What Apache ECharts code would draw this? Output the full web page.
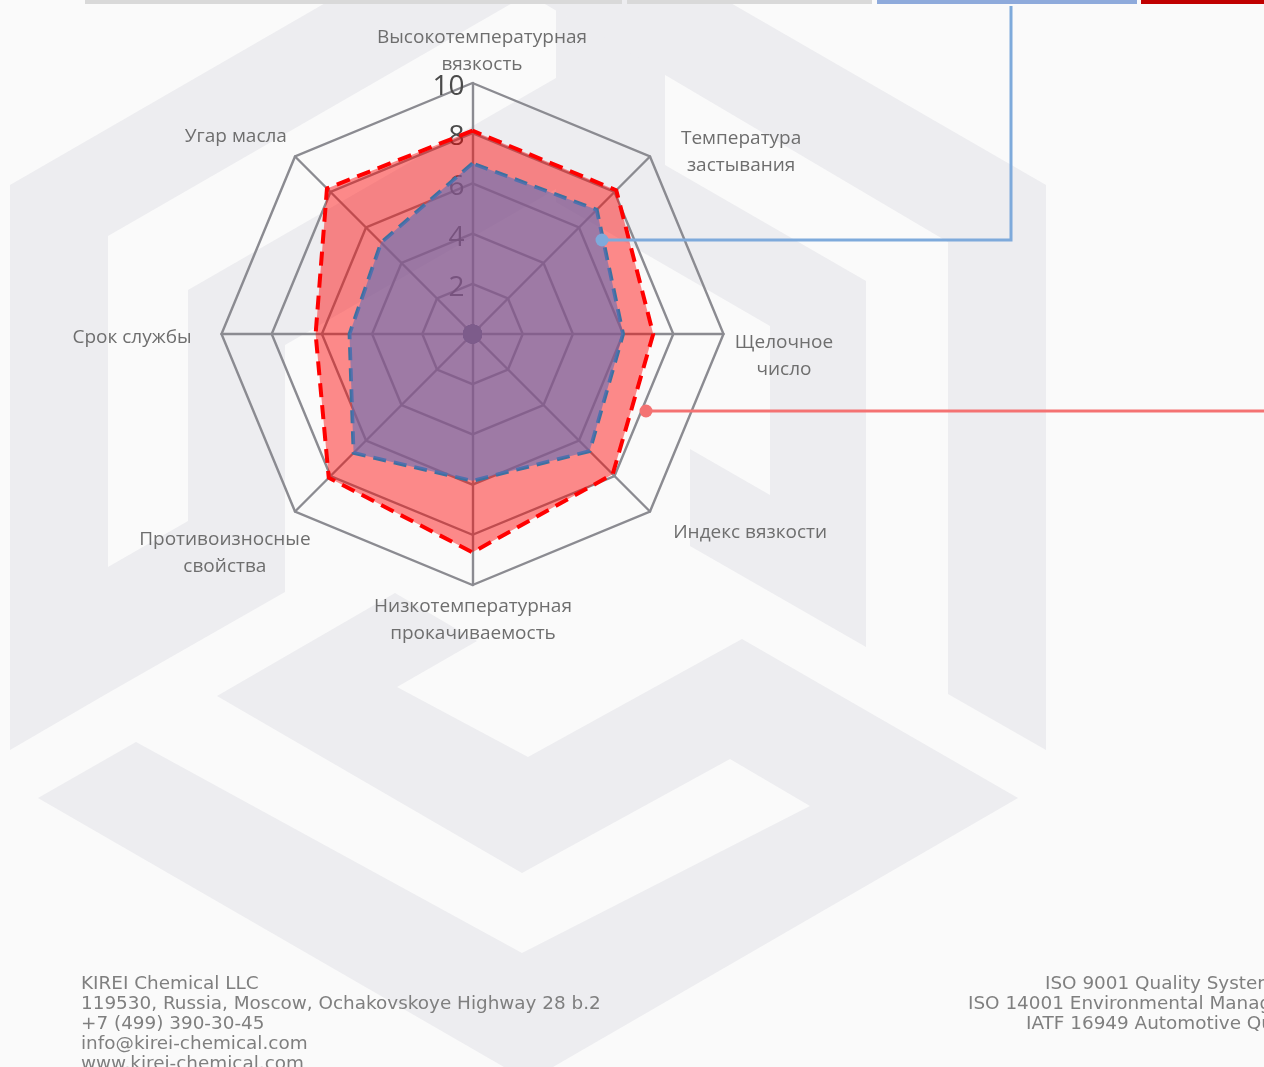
<!DOCTYPE html>
<html>
<head>
<meta charset="utf-8">
<script src="https://cdn.jsdelivr.net/npm/echarts@6/dist/echarts.min.js"></script>
<style>
html,body{margin:0;padding:0;background:#fafafa;}
#chart{width:1264px;height:1067px;}
</style>
</head>
<body>
<div id="chart"></div>
<script>
// ---------- DATA (clockwise from the top axis) ----------
const categories = [
  'Высокотемпературная\nвязкость',
  'Температура\nзастывания',
  'Щелочное\nчисло',
  'Индекс вязкости',
  'Низкотемпературная\nпрокачиваемость',
  'Противоизносные\nсвойства',
  'Срок службы',
  'Угар масла'
];
const redSeriesValues  = [8.1, 8.1, 7.2, 7.9, 8.7, 8.1, 6.25, 8.2];
const blueSeriesValues = [6.8, 7.0, 6.0, 6.6, 5.85, 6.7, 4.9, 5.15];
const centerValues     = [0, 0, 0, 0, 0, 0, 0, 0];
const scaleMax = 10;
const scaleStep = 2;

const footerLeft = [
  'KIREI Chemical LLC',
  '119530, Russia, Moscow, Ochakovskoye Highway 28 b.2',
  '+7 (499) 390-30-45',
  'info@kirei-chemical.com',
  'www.kirei-chemical.com'
];
const footerRight = [
  'ISO 9001 Quality System',
  'ISO 14001 Environmental Management',
  'IATF 16949 Automotive Quality'
];

// ---------- LAYOUT ----------
const CX = 472.5, CY = 334, R = 251;
const labelDrop = 4; // tick labels sit a little below their rings
// label shift (dx, dy) from the default name anchor, clockwise order
const nameShift = [[9.5,-12],[77,9.6],[40.5,22],[86,7.4],[0.5,15.5],[-56,27.4],[-69.5,4],[-45,-5.4]];
const n = categories.length;
// ECharts radar runs counter-clockwise: map ECharts slot -> clockwise index
const ecOrder = categories.map((_, j) => (n - j) % n);

const rich = {};
nameShift.forEach((s, k) => {
  const dx = s[0], dy = s[1];
  rich['n' + k] = {
    align: 'center',
    lineHeight: 27,
    fontSize: 19,
    fontFamily: 'Open Sans',
    color: '#6e6e6e',
    padding: [Math.max(0, 2*dy), Math.max(0, -2*dx), Math.max(0, -2*dy), Math.max(0, 2*dx)]
  };
});

const bgColor = '#ededf0';
const bgPolys = [
  [[10,750],[10,185],[528,-114],[1046,185],[1046,750],[948,694],[948,242],[528,-6],[108,236],[108,693]],
  [[108,693],[108,567],[188,521],[188,290],[556,78],[556,189],[285,345],[285,592]],
  [[556,10],[665,73],[665,165],[866,281],[866,647],[690,546],[690,449],[770,495],[770,326],[556,202]],
  [[38,798],[136,742],[522,953],[810,806],[730,759],[522,873],[217,696],[395,593],[477,641],[397,687],
   [528,757],[742,639],[1018,798],[553,1067],[504,1067]]
];

const graphics = [];
bgPolys.forEach(p => graphics.push({type:'polygon', z:-10, silent:true, shape:{points:p}, style:{fill:bgColor}}));
// top strip bars
[[85,537,'#d9d9d9'],[627,245,'#d9d9d9'],[877,260,'#8eaadb'],[1141,123,'#c00000']].forEach(b => {
  graphics.push({type:'rect', z:10, shape:{x:b[0], y:0, width:b[1], height:4}, style:{fill:b[2]}});
});
// leader lines
graphics.push({type:'polyline', z:20, shape:{points:[[602,240],[1011,240],[1011,6]]}, style:{stroke:'#7eaadb', lineWidth:3, fill:null}});
graphics.push({type:'circle', z:21, shape:{cx:602, cy:240, r:6.5}, style:{fill:'#7eaadb'}});
graphics.push({type:'polyline', z:20, shape:{points:[[646,411],[1264,411]]}, style:{stroke:'#f47272', lineWidth:3, fill:null}});
graphics.push({type:'circle', z:21, shape:{cx:646, cy:411, r:6.5}, style:{fill:'#f47272'}});
// footer
footerLeft.forEach((t, i) => graphics.push({type:'text', z:20, x:81, y:984 + i*20,
  style:{text:t, font:'18.4px "DejaVu Sans"', fill:'#7f7f7f', verticalAlign:'middle'}}));
const footerRightX = [1045, 968, 1026];
footerRight.forEach((t, i) => graphics.push({type:'text', z:20, x:footerRightX[i], y:984 + i*20,
  style:{text:t, font:'18.4px "DejaVu Sans"', fill:'#7f7f7f', verticalAlign:'middle'}}));

const chart = echarts.init(document.getElementById('chart'), null, {renderer:'canvas'});
chart.setOption({
  backgroundColor: '#fafafa',
  animation: false,
  graphic: {elements: graphics},
  grid: {left: CX, top: CY - R + labelDrop, width: 10, height: R, containLabel: false},
  xAxis: {type:'value', show:false, min:0, max:1},
  yAxis: {
    type:'value', min:0, max:scaleMax, interval:scaleStep,
    axisLine:{show:false}, axisTick:{show:false}, splitLine:{show:false},
    axisLabel:{showMinLabel:false, fontSize:28, color:'#4a4a4a', fontFamily:'Open Sans', margin:8}
  },
  radar: {
    center: [CX, CY],
    radius: R,
    startAngle: 90,
    shape: 'polygon',
    splitNumber: scaleMax / scaleStep,
    nameGap: 20,
    indicator: ecOrder.map(i => ({name: categories[i], min: 0, max: scaleMax})),
    axisName: {
      align: 'center',
      verticalAlign: 'middle',
      fontSize: 19,
      fontFamily: 'Open Sans',
      color: '#6e6e6e',
      lineHeight: 27,
      formatter: function (name) {
        const k = categories.indexOf(name);
        return name.split('\n').map(l => '{n' + k + '|' + l + '}').join('\n');
      },
      rich: rich
    },
    splitLine: {lineStyle: {color:'#8b8b91', width:2.4}},
    axisLine: {lineStyle: {color:'#8b8b91', width:2.4}},
    splitArea: {show:false},
    axisTick: {show:false}
  },
  series: [
    {
      type: 'radar',
      z: 2,
      symbol: 'none',
      data: [{
        name: 'Красная серия',
        value: ecOrder.map(i => redSeriesValues[i]),
        lineStyle: {color:'#ff0000', width:4, type:[14,8]},
        areaStyle: {color:'rgba(255,0,0,0.45)', opacity:1}
      }]
    },
    {
      type: 'radar',
      z: 3,
      symbol: 'none',
      data: [{
        name: 'Синяя серия',
        value: ecOrder.map(i => blueSeriesValues[i]),
        lineStyle: {color:'#3d71a0', width:3.8, type:[13,8]},
        areaStyle: {color:'rgba(95,111,183,0.6)', opacity:1}
      }]
    },
    {
      type: 'radar',
      z: 4,
      symbol: 'circle',
      symbolSize: 19,
      data: [{
        name: 'Центр',
        value: ecOrder.map(i => centerValues[i]),
        itemStyle: {color:'#7d5c8b'},
        lineStyle: {width:0}
      }]
    }
  ]
});
</script>
</body>
</html>
